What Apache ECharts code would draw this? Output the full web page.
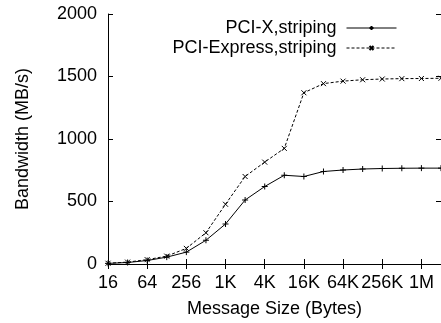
<!DOCTYPE html>
<html>
<head>
<meta charset="utf-8">
<script src="https://cdn.jsdelivr.net/npm/echarts@6/dist/echarts.min.js"></script>
<style>
  html, body { margin: 0; padding: 0; background: #fff; }
  #chart { width: 441px; height: 323px; }
</style>
</head>
<body>
<div id="chart"></div>
<script>
// Message sizes (bytes), one per power of two
const sizes = ['16', '32', '64', '128', '256', '512', '1K', '2K', '4K', '8K',
               '16K', '32K', '64K', '128K', '256K', '512K', '1M', '2M'];
// Bandwidth in MB/s
const pciX = [5, 12, 28, 55, 95, 190, 320, 512, 620, 710,
              700, 740, 752, 760, 764, 766, 767, 767];
const pciExpress = [6, 15, 35, 63, 125, 250, 478, 700, 815, 925,
                    1370, 1443, 1463, 1474, 1480, 1483, 1484, 1486];
const yTicks = [0, 500, 1000, 1500, 2000];

const FONT = "'Liberation Sans', Arial, Helvetica, sans-serif";
const plus = 'path://M0,-1L0,1M-1,0L1,0';
const cross = 'path://M-1,-1L1,1M-1,1L1,-1';

const chart = echarts.init(document.getElementById('chart'), null, { renderer: 'canvas' });

const axisLine = { show: true, lineStyle: { color: '#000', width: 1 } };
const tick = { show: true, inside: true, length: 5, lineStyle: { color: '#000', width: 1 }, interval: 1 };
const yTick = { show: true, inside: true, length: 5, lineStyle: { color: '#000', width: 1 } };

chart.setOption({
  animation: false,
  textStyle: { fontFamily: FONT },
  grid: { left: 108, right: 0, top: 14, bottom: 58, containLabel: false },
  legend: {
    orient: 'vertical',
    align: 'right',
    right: 44,
    top: 19,
    itemWidth: 50,
    itemHeight: 5,
    itemGap: 2,
    padding: 0,
    formatter: name => name + ' ',
    lineStyle: { width: 1 },
    textStyle: { fontFamily: FONT, fontSize: 18, color: '#000' },
    data: ['PCI-X,striping', 'PCI-Express,striping']
  },
  xAxis: [{
    type: 'category',
    data: sizes,
    boundaryGap: false,
    position: 'bottom',
    axisLine: axisLine,
    axisTick: tick,
    axisLabel: { interval: 1, margin: 10, fontSize: 18, color: '#000', fontFamily: FONT },
    splitLine: { show: false },
    name: 'Message Size (Bytes)',
    nameLocation: 'middle',
    nameGap: 36,
    nameTextStyle: { fontSize: 18, color: '#000', fontFamily: FONT }
  }, {
    type: 'category',
    data: sizes,
    boundaryGap: false,
    position: 'top',
    axisLine: axisLine,
    axisTick: tick,
    axisLabel: { show: false },
    splitLine: { show: false }
  }],
  yAxis: [{
    type: 'value',
    min: yTicks[0],
    max: yTicks[yTicks.length - 1],
    interval: 500,
    position: 'left',
    axisLine: axisLine,
    axisTick: yTick,
    axisLabel: { margin: 11, fontSize: 18, color: '#000', fontFamily: FONT, formatter: v => String(v) },
    splitLine: { show: false },
    name: 'Bandwidth (MB/s)',
    nameLocation: 'middle',
    nameGap: 76,
    nameTextStyle: { fontSize: 18, color: '#000', fontFamily: FONT }
  }, {
    type: 'value',
    min: yTicks[0],
    max: yTicks[yTicks.length - 1],
    interval: 500,
    position: 'right',
    axisLine: axisLine,
    axisTick: yTick,
    axisLabel: { show: false },
    splitLine: { show: false }
  }],
  series: [{
    name: 'PCI-X,striping',
    type: 'line',
    data: pciX,
    symbol: plus,
    symbolSize: 6,
    itemStyle: { color: '#000', borderColor: '#000', borderWidth: 1 },
    lineStyle: { color: '#000', width: 1 }
  }, {
    name: 'PCI-Express,striping',
    type: 'line',
    data: pciExpress,
    symbol: cross,
    symbolSize: 5,
    itemStyle: { color: '#000', borderColor: '#000', borderWidth: 1 },
    lineStyle: { color: '#000', width: 1, type: [3, 2] }
  }]
});
</script>
</body>
</html>
